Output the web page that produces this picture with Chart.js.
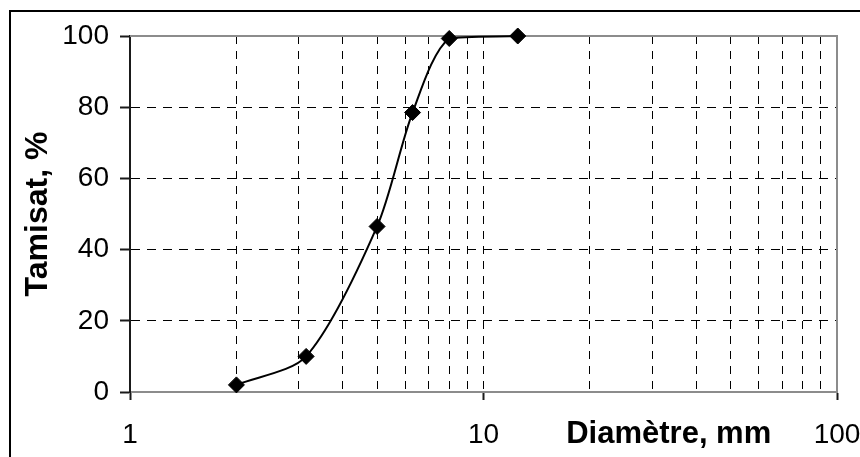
<!DOCTYPE html>
<html lang="fr">
<head>
<meta charset="utf-8">
<title>Courbe granulométrique</title>
<script src="https://cdn.jsdelivr.net/npm/chart.js@4/dist/chart.umd.min.js"></script>
<style>
  html, body { margin: 0; padding: 0; background: #fff; overflow: hidden; }
  #wrap { position: relative; width: 860px; height: 457px; }
  #frame {
    position: absolute; left: 9px; top: 10px; width: 900px; height: 500px;
    border-left: 2px solid #000; border-top: 2px solid #000;
  }
  #chart { position: absolute; left: 0; top: 0; }
</style>
</head>
<body>
<div id="wrap">
  <div id="frame"></div>
  <canvas id="chart" width="860" height="457"></canvas>
</div>
<script>
// Sieve openings (mm) and cumulative passing (%)
const diameters = [2, 3.15, 5, 6.3, 8, 12.5];
const passing = [2, 10, 46.5, 78.5, 99.3, 100];

// Axis ticks
const xGridValues = [1, 2, 3, 4, 5, 6, 7, 8, 9, 10, 20, 30, 40, 50, 60, 70, 80, 90, 100];
const xLabelValues = [1, 10, 100];
const yTickValues = [0, 20, 40, 60, 80, 100];

const FONT = "'Liberation Sans', Arial, sans-serif";
const INK = '#1a1a1a';
const FRAME_GREY = '#8c8c8c';

// Grey plot-area frame on the top and right sides
const plotFrame = {
  id: 'plotFrame',
  beforeDatasetsDraw(chart) {
    const { ctx, chartArea: a } = chart;
    ctx.save();
    ctx.strokeStyle = FRAME_GREY;
    ctx.lineWidth = 2;
    ctx.beginPath();
    ctx.moveTo(a.left, a.top);
    ctx.lineTo(a.right, a.top);
    ctx.lineTo(a.right, a.bottom);
    ctx.stroke();
    ctx.restore();
  }
};

// Horizontal axis caption placed on the tick-label row
const axisCaption = {
  id: 'axisCaption',
  afterDraw(chart) {
    const { ctx, chartArea: a } = chart;
    ctx.save();
    ctx.font = "bold 31px " + FONT;
    ctx.fillStyle = '#000';
    ctx.textAlign = 'center';
    ctx.textBaseline = 'middle';
    ctx.fillText('Diamètre, mm', a.left + a.width * 0.762, a.bottom + 42);
    ctx.restore();
  }
};

new Chart(document.getElementById('chart'), {
  type: 'line',
  data: {
    datasets: [{
      data: diameters.map((d, i) => ({ x: d, y: passing[i] })),
      borderColor: '#000',
      borderWidth: 2,
      tension: 0.28,
      pointStyle: 'rectRot',
      pointRadius: 8,
      pointBorderWidth: 1,
      pointBackgroundColor: '#000',
      pointBorderColor: '#000',
      clip: false
    }]
  },
  options: {
    responsive: false,
    devicePixelRatio: 1,
    animation: false,
    layout: { padding: { left: 0, top: 36, right: 0, bottom: 0 } },
    plugins: { legend: { display: false }, tooltip: { enabled: false } },
    scales: {
      x: {
        type: 'logarithmic',
        min: 1,
        max: 100,
        afterBuildTicks(scale) {
          scale.ticks = xGridValues.map(v => ({ value: v, major: xLabelValues.includes(v) }));
        },
        afterFit(scale) {
          scale.height = 65;
          scale.paddingRight = 23;
        },
        ticks: {
          autoSkip: false,
          maxRotation: 0,
          padding: 18,
          color: '#000',
          font: { family: FONT, size: 28 },
          callback: (v) => xLabelValues.includes(v) ? String(v) : ''
        },
        grid: {
          color: (c) => (c.tick && (c.tick.value === 1 || c.tick.value === 100)) ? 'transparent' : '#000',
          lineWidth: 1,
          tickLength: 8,
          tickWidth: 2,
          tickColor: (c) => (c.tick && xLabelValues.includes(c.tick.value)) ? INK : 'transparent'
        },
        border: { display: true, color: FRAME_GREY, width: 2, dash: [8, 7] }
      },
      y: {
        min: 0,
        max: 100,
        afterBuildTicks(scale) {
          scale.ticks = yTickValues.map(v => ({ value: v }));
        },
        afterFit(scale) { scale.width = 130; },
        ticks: {
          padding: 11,
          color: '#000',
          font: { family: FONT, size: 28 }
        },
        grid: {
          color: (c) => (c.tick && c.tick.value === 100) ? 'transparent' : '#000',
          lineWidth: 1,
          tickLength: 10,
          tickWidth: 2,
          tickColor: INK
        },
        border: { display: true, color: INK, width: 2, dash: [9, 7] },
        title: {
          display: true,
          text: 'Tamisat, %',
          color: '#000',
          font: { family: FONT, size: 32, weight: 'bold' },
          padding: { top: 19, bottom: 0 }
        }
      }
    }
  },
  plugins: [plotFrame, axisCaption]
});
</script>
</body>
</html>
